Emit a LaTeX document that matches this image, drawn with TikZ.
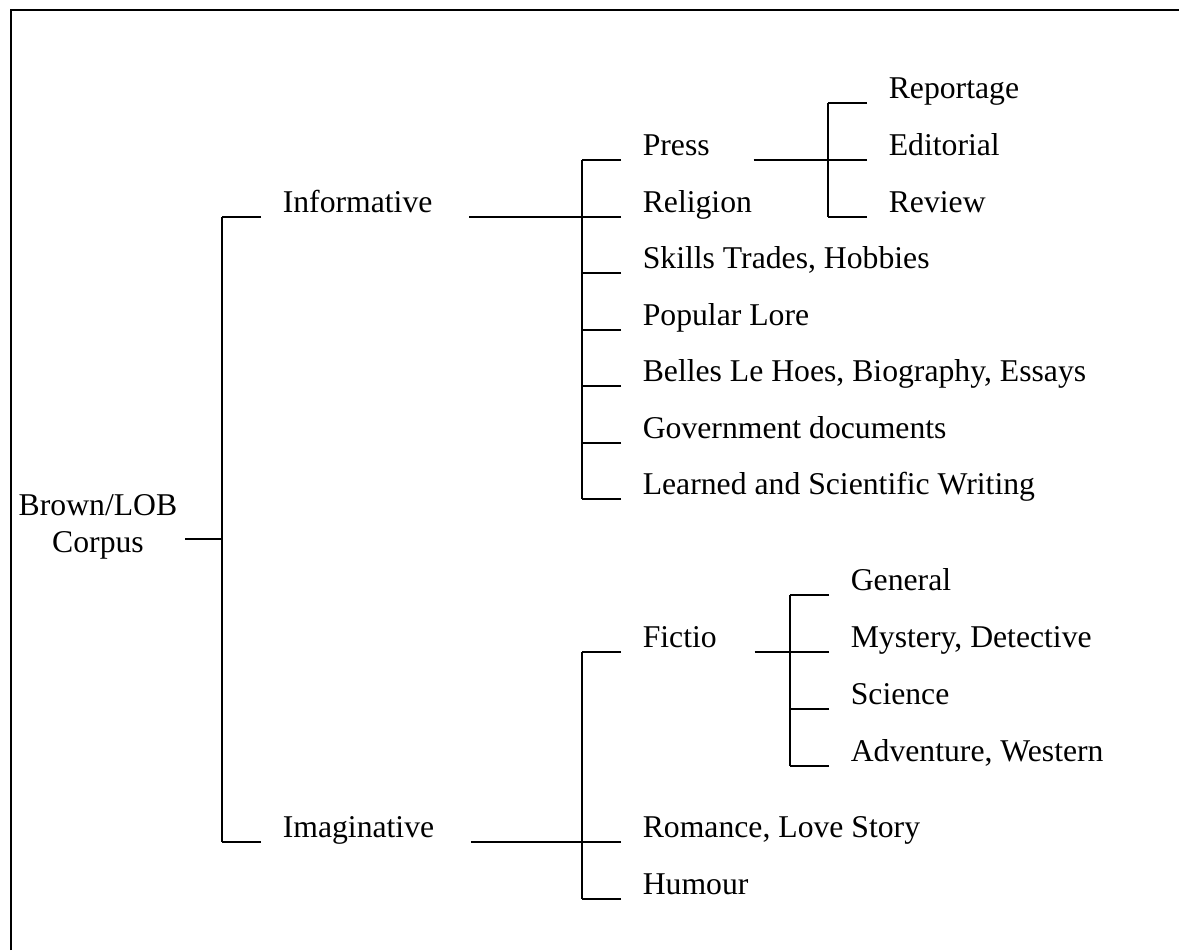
\documentclass[tikz,border=0pt]{standalone}
\usepackage{fontspec}
\setmainfont{Liberation Serif}
\begin{document}
\begin{tikzpicture}[x=0.5pt, y=-0.5pt, line width=0.8pt,
    lbl/.style={anchor=base west, inner sep=0pt, font=\fontsize{15.85}{18.5}\selectfont}]
\useasboundingbox (0,0) rectangle (1179,950);
\draw[line width=1.2pt](11,950)--(11,10)--(1179,10);

\node[lbl, anchor=center, align=center] (root) at (98,527){Brown/LOB\\Corpus};
\node[lbl] (informative) at (282,212){Informative};
\node[lbl] (imaginative) at (282,837){Imaginative};

\node[lbl] (press) at (642,155){Press};
\node[lbl] (religion) at (642,212){Religion};
\node[lbl] (skills) at (642,268){Skills Trades, Hobbies};
\node[lbl] (lore) at (642,325){Popular Lore};
\node[lbl] (belles) at (642,381){Belles Le Hoes, Biography, Essays};
\node[lbl] (gov) at (642,438){Government documents};
\node[lbl] (learned) at (642,494){Learned and Scientific Writing};

\node[lbl] (reportage) at (888,98){Reportage};
\node[lbl] (editorial) at (888,155){Editorial};
\node[lbl] (review) at (888,212){Review};

\node[lbl] (fictio) at (642,647){Fictio};
\node[lbl] (romance) at (642,837){Romance, Love Story};
\node[lbl] (humour) at (642,894){Humour};

\node[lbl] (general) at (850,590){General};
\node[lbl] (mystery) at (850,647){Mystery, Detective};
\node[lbl] (science) at (850,704){Science};
\node[lbl] (adventure) at (850,761){Adventure, Western};

% stubs
\foreach \n in {informative,imaginative,press,religion,skills,lore,belles,gov,learned,
    reportage,editorial,review,fictio,romance,humour,general,mystery,science,adventure}
  \draw(\n.base west) ++(-21,5) -- ++(-39,0);

% bars
\draw([shift={(-60,5)}]informative.base west)--([shift={(-60,5)}]imaginative.base west);
\draw([shift={(-60,5)}]press.base west)--([shift={(-60,5)}]learned.base west);
\draw([shift={(-60,5)}]reportage.base west)--([shift={(-60,5)}]review.base west);
\draw([shift={(-60,5)}]fictio.base west)--([shift={(-60,5)}]humour.base west);
\draw([shift={(-60,5)}]general.base west)--([shift={(-60,5)}]adventure.base west);

% links to children
\draw([shift={(7,12)}]root.east)--++(38,0);
\draw([shift={(36,5)}]informative.base east)--([shift={(-21,5)}]religion.base west);
\draw([shift={(36,5)}]imaginative.base east)--([shift={(-21,5)}]romance.base west);
\draw([shift={(43,5)}]press.base east)--([shift={(-21,5)}]editorial.base west);
\draw([shift={(37,5)}]fictio.base east)--([shift={(-21,5)}]mystery.base west);

\end{tikzpicture}
\end{document}
